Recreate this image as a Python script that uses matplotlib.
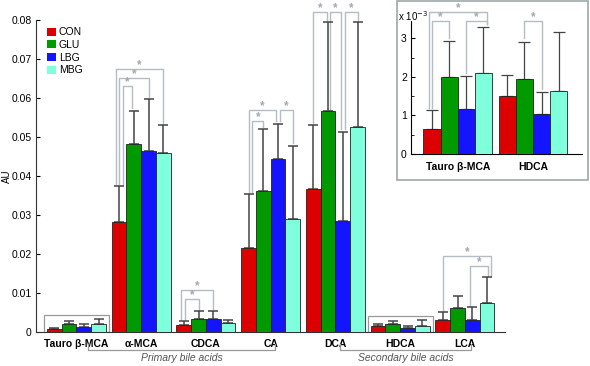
import numpy as np
import matplotlib
matplotlib.use("Agg")
import matplotlib.pyplot as plt
from matplotlib.patches import Rectangle, Patch
from matplotlib.ticker import FuncFormatter, MultipleLocator

plt.rcParams['font.family'] = ['Liberation Sans', 'DejaVu Sans']

# Data (AU)
groups = ["Tauro β-MCA", "α-MCA", "CDCA", "CA", "DCA", "HDCA", "LCA"]
series = ["CON", "GLU", "LBG", "MBG"]
con = [0.00065, 0.0281, 0.0018, 0.0216, 0.0368, 0.0015, 0.0031]
glu = [0.0020, 0.0482, 0.0032, 0.0362, 0.0567, 0.00195, 0.0062]
lbg = [0.00117, 0.0464, 0.0034, 0.0445, 0.0285, 0.00103, 0.0031]
mbg = [0.0021, 0.0460, 0.0022, 0.0289, 0.0526, 0.00163, 0.0074]
con_sd = [0.00048, 0.0093, 0.0011, 0.0137, 0.0162, 0.00055, 0.0020]
glu_sd = [0.00093, 0.0086, 0.0021, 0.0158, 0.0229, 0.00097, 0.0029]
lbg_sd = [0.00085, 0.0133, 0.0020, 0.0089, 0.0229, 0.00057, 0.0032]
mbg_sd = [0.0012, 0.0070, 0.0008, 0.0189, 0.0270, 0.00154, 0.0067]
colors = ["#dd0000", "#009a00", "#1414ff", "#80ffdd"]

inset_groups = ["Tauro β-MCA", "HDCA"]
inset_idx = [0, 5]

# significance brackets: (group, bar a, bar b, top, bottom a, bottom b, nudge a, nudge b)
main_brackets = [
    (1, 0, 1, 0.0630, 0.0380, 0.0575, 0.25, -0.1),
    (1, 0, 2, 0.0652, 0.0380, 0.0603, 0.0, 0.0),
    (1, 0, 3, 0.0674, 0.0380, 0.0536, -0.22, -0.05),
    (2, 0, 1, 0.0085, 0.0033, 0.0057, 0.1, 0.0),
    (2, 0, 2, 0.0108, 0.0033, 0.0058, -0.17, 0.0),
    (3, 0, 1, 0.0541, 0.0360, 0.0525, 0.26, 0.0),
    (3, 0, 2, 0.0569, 0.0360, 0.0540, 0.0, -0.16),
    (3, 2, 3, 0.0569, 0.0540, 0.0485, 0.14, 0.0),
    (4, 0, 1, 0.0820, 0.0537, 0.0800, 0.0, -0.05),
    (4, 1, 2, 0.0820, 0.0570, 0.0520, 0.15, -0.15),
    (4, 2, 3, 0.0820, 0.0520, 0.0800, 0.14, 0.0),
    (6, 0, 3, 0.0195, 0.0054, 0.0144, 0.0, 0.27),
    (6, 2, 3, 0.0169, 0.0066, 0.0144, -0.15, 0.09),
]
inset_brackets = [
    (0, 0, 1, 3.44, 1.20, 3.00, 0.0, 0.0),
    (0, 0, 3, 3.68, 1.20, 3.38, -0.16, 0.18),
    (0, 2, 3, 3.44, 2.10, 3.38, 0.0, 0.18),
    (1, 1, 2, 3.44, 3.00, 1.68, 0.0, 0.0),
]

means = np.array([con, glu, lbg, mbg])
sds = np.array([con_sd, glu_sd, lbg_sd, mbg_sd])
width = 0.228
offsets = (np.arange(4) - 1.5) * width
br_color = "#b4bcc4"
star_color = "#a0a8b0"


def draw_bars(ax, vals, errs, x, lw_err=1.1, capsize=3.6):
    for k in range(4):
        ax.bar(x + offsets[k], vals[k], width, color=colors[k], edgecolor="#222222",
               linewidth=0.6, zorder=3, label=series[k])
        ax.errorbar(x + offsets[k], vals[k], yerr=[np.zeros_like(errs[k]), errs[k]],
                    fmt="none", ecolor="#444444", elinewidth=lw_err, capsize=capsize,
                    capthick=lw_err, zorder=2)


def draw_brackets(ax, brackets):
    for g, a, b, top, ya, yb, da, db in brackets:
        xa = g + offsets[a] + da * width
        xb = g + offsets[b] + db * width
        ax.plot([xa, xa, xb, xb], [ya, top, top, yb], color=br_color, lw=1.0,
                clip_on=False, zorder=1)
        ax.annotate("*", ((xa + xb) / 2, top), xytext=(0, -1.5), textcoords="offset points",
                    ha="center", va="bottom", color=star_color, fontsize=8.5,
                    fontweight="bold", annotation_clip=False)


fig = plt.figure(figsize=(5.9, 3.66), dpi=100)
ax = fig.add_axes([0.061, 0.093, 0.795, 0.852])
x = np.arange(len(groups))
draw_bars(ax, means, sds, x)
draw_brackets(ax, main_brackets)

ax.set_xlim(-0.625, 6.62)
ax.set_ylim(0, 0.08)
ax.yaxis.set_major_locator(MultipleLocator(0.01))
ax.yaxis.set_major_formatter(FuncFormatter(lambda v, p: f"{v:g}"))
ax.set_xticks(x)
ax.set_xticklabels(groups, fontweight="bold", fontsize=7.5)
ax.tick_params(axis="x", length=0, pad=5)
ax.tick_params(axis="y", direction="in", length=3, labelsize=7.5, pad=3)
for s in ["top", "right"]:
    ax.spines[s].set_visible(False)
ax.spines["left"].set_color("#333333")
ax.spines["bottom"].set_color("#333333")
ax.set_ylabel("AU", fontsize=7, va="center")
ax.yaxis.set_label_coords(-0.061, 0.5)

# boxes around the groups shown in the inset
for g, top in zip(inset_idx, [0.00436, 0.0042]):
    ax.add_patch(Rectangle((g - 0.5, 0), 1.0, top, fill=False, edgecolor="#999999",
                           lw=0.9, zorder=1))

# braces for the bile acid classes
trans = ax.get_xaxis_transform()
for x0, x1, label in [(0.18, 3.07, "Primary bile acids"), (4.07, 6.09, "Secondary bile acids")]:
    ax.plot([x0, x0, x1, x1], [-0.038, -0.058, -0.058, -0.038], color="#999999", lw=0.9,
            transform=trans, clip_on=False)
    ax.text((x0 + x1) / 2, -0.085, label, transform=trans, ha="center", va="center",
            style="italic", color="#555555", fontsize=7.5)

handles = [Patch(facecolor=c, edgecolor="none") for c in colors]
ax.legend(handles, series, loc="upper left", bbox_to_anchor=(0.015, 0.99), frameon=False,
          fontsize=7.5, handlelength=0.8, handleheight=0.8, handletextpad=0.3,
          labelspacing=0.25, borderaxespad=0)

# inset
fig.patches.append(Rectangle((0.673, 0.508), 0.324, 0.489, transform=fig.transFigure,
                             fill=False, edgecolor="#a0a8a8", lw=1.2))
axi = fig.add_axes([0.6966, 0.5792, 0.2893, 0.3642])
xi = np.arange(len(inset_groups))
draw_bars(axi, means[:, inset_idx] * 1e3, sds[:, inset_idx] * 1e3, xi, lw_err=0.9, capsize=4.2)
draw_brackets(axi, inset_brackets)
axi.set_xlim(-0.62, 1.645)
axi.set_ylim(0, 3.46)
axi.yaxis.set_major_locator(MultipleLocator(1))
axi.yaxis.set_minor_locator(MultipleLocator(0.5))
axi.set_xticks(xi)
axi.set_xticklabels(inset_groups, fontweight="bold", fontsize=7.5)
axi.tick_params(axis="x", length=0, pad=6)
axi.tick_params(axis="y", which="both", direction="in", labelsize=7.5, pad=3)
axi.tick_params(axis="y", which="major", length=3)
axi.tick_params(axis="y", which="minor", length=2)
for s in ["top", "right"]:
    axi.spines[s].set_visible(False)
fig.text(0.674, 0.955, r"x 10$^{-3}$", fontsize=7, ha="left", va="center")

fig.savefig("out.png", dpi=100)
